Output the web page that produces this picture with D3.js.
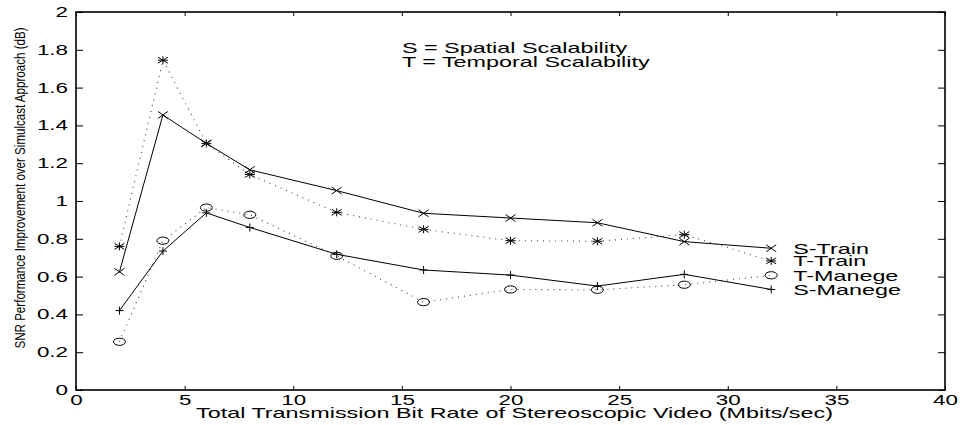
<!DOCTYPE html>
<html>
<head>
<meta charset="utf-8">
<script src="https://cdn.jsdelivr.net/npm/d3@7/dist/d3.min.js"></script>
<style>
  body { margin: 0; background: #fff; }
  text { font-family: "Liberation Sans", Arial, Helvetica, sans-serif; fill: #000; }
</style>
</head>
<body>
<div id="chart"></div>
<script>
// bit rates (Mbits/sec)
const rates = [2, 4, 6, 8, 12, 16, 20, 24, 28, 32];

// SNR improvement over simulcast (dB)
const sTrain  = [0.625, 1.455, 1.305, 1.165, 1.055, 0.935, 0.91, 0.885, 0.785, 0.75];
const tTrain  = [0.76, 1.745, 1.305, 1.14, 0.94, 0.85, 0.79, 0.787, 0.822, 0.683];
const tManege = [0.255, 0.79, 0.965, 0.927, 0.71, 0.465, 0.532, 0.53, 0.557, 0.607];
const sManege = [0.42, 0.735, 0.937, 0.86, 0.718, 0.635, 0.608, 0.55, 0.612, 0.532];

const seriesNames = ['S-Train', 'T-Train', 'T-Manege', 'S-Manege'];
const seriesMarkers = ['x', 'star', 'circle', 'plus'];
const seriesDashed = [false, true, true, false];

const xTicks = [0, 5, 10, 15, 20, 25, 30, 35, 40];
const yTicks = [0, 0.2, 0.4, 0.6, 0.8, 1, 1.2, 1.4, 1.6, 1.8, 2];

const notes = ['S = Spatial Scalability', 'T = Temporal Scalability'];
const noteX = 15;
const noteY = [1.81, 1.735];

const xTitle = 'Total Transmission Bit Rate of Stereoscopic Video (Mbits/sec)';
const yTitle = 'SNR Performance Improvement over Simulcast Approach (dB)';

// the original figure is stretched horizontally
const SX = 1.67;
const SX_TICK = 1.6;

const W = 960, H = 425;
const margin = {top: 12, right: 15, bottom: 35, left: 76};
const width = W - margin.left - margin.right;
const height = H - margin.top - margin.bottom;

const svg = d3.select('#chart').append('svg')
    .attr('width', W)
    .attr('height', H);

const g = svg.append('g')
    .attr('transform', 'translate(' + margin.left + ',' + margin.top + ')');

const x = d3.scaleLinear().domain([0, 40]).range([0, width]);
const y = d3.scaleLinear().domain([0, 2]).range([height, 0]);

// axes, ticks pointing inward like matlab
const xAxis = d3.axisBottom(x).tickValues(xTicks).tickSizeInner(-4).tickSizeOuter(0).tickPadding(5);
const yAxis = d3.axisLeft(y).tickValues(yTicks).tickSizeInner(-7).tickSizeOuter(0).tickPadding(8)
    .tickFormat(d => String(d));
const xAxisTop = d3.axisTop(x).tickValues(xTicks).tickSizeInner(-4).tickSizeOuter(0).tickFormat('');
const yAxisRight = d3.axisRight(y).tickValues(yTicks).tickSizeInner(-7).tickSizeOuter(0).tickFormat('');

const gx = g.append('g')
    .attr('transform', 'translate(0,' + height + ')')
    .call(xAxis);
const gy = g.append('g').call(yAxis);
const gxt = g.append('g').call(xAxisTop);
const gyr = g.append('g')
    .attr('transform', 'translate(' + width + ',0)')
    .call(yAxisRight);

[gx, gy, gxt, gyr].forEach(a => {
  a.select('.domain').remove();
  a.selectAll('line').attr('stroke', '#000').attr('stroke-width', 1);
  a.selectAll('text')
      .attr('font-size', 14)
      .attr('font-family', '"Liberation Sans", Arial, sans-serif')
      .attr('fill', '#000');
});
gx.selectAll('text').attr('transform', 'scale(' + SX_TICK + ',1)');
gy.selectAll('text')
    .attr('x', -8 / SX_TICK)
    .attr('transform', 'scale(' + SX_TICK + ',1)');

// frame
g.append('rect')
    .attr('width', width)
    .attr('height', height)
    .attr('fill', 'none')
    .attr('stroke', '#000')
    .attr('stroke-width', 1.6);

// series
const allSeries = [sTrain, tTrain, tManege, sManege].map((vals, i) => ({
  name: seriesNames[i],
  marker: seriesMarkers[i],
  dashed: seriesDashed[i],
  points: vals.map((v, j) => ({rate: rates[j], value: v}))
}));

const line = d3.line()
    .x(d => x(d.rate))
    .y(d => y(d.value));

// dotted first, solid on top
allSeries.slice().sort((a, b) => b.dashed - a.dashed).forEach(s => {
  g.append('path')
      .datum(s.points)
      .attr('fill', 'none')
      .attr('stroke', s.dashed ? '#444' : '#000')
      .attr('stroke-width', s.dashed ? 1.1 : 1)
      .attr('stroke-dasharray', s.dashed ? '1,5' : null)
      .attr('d', line);
});

function markerPath(type) {
  switch (type) {
    case 'x': {
      const hx = 5, hy = 3.5;
      return `M${-hx},${-hy}L${hx},${hy}M${-hx},${hy}L${hx},${-hy}`;
    }
    case 'plus': {
      const hx = 4, hy = 4;
      return `M${-hx},0L${hx},0M0,${-hy}L0,${hy}`;
    }
    case 'star': {
      const hx = 5, hy = 4;
      return `M${-hx},${-hy * 0.75}L${hx},${hy * 0.75}M${-hx},${hy * 0.75}L${hx},${-hy * 0.75}` +
             `M${-hx},0L${hx},0M0,${-hy}L0,${hy}`;
    }
    case 'circle': {
      const rx = 6, ry = 3.6;
      return `M${-rx},0A${rx},${ry} 0 1,0 ${rx},0A${rx},${ry} 0 1,0 ${-rx},0Z`;
    }
  }
}

allSeries.forEach(s => {
  g.append('g').selectAll('path')
      .data(s.points)
      .join('path')
      .attr('transform', d => 'translate(' + x(d.rate) + ',' + y(d.value) + ')')
      .attr('d', markerPath(s.marker))
      .attr('fill', 'none')
      .attr('stroke', '#000')
      .attr('stroke-width', 1);
});

// series labels next to last point
allSeries.forEach(s => {
  const last = s.points[s.points.length - 1];
  g.append('text')
      .attr('transform', 'translate(' + (x(last.rate) + 22) + ',' + (y(last.value) + 5.5) + ') scale(' + SX + ',1)')
      .attr('font-size', 14)
      .text(s.name);
});

// notes
notes.forEach((t, i) => {
  g.append('text')
      .attr('transform', 'translate(' + x(noteX) + ',' + (y(noteY[i]) + 5) + ') scale(' + SX + ',1)')
      .attr('font-size', 14)
      .text(t);
});

// axis titles
svg.append('text')
    .attr('transform', 'translate(' + (margin.left + width / 2 + 4) + ',418) scale(' + SX + ',1)')
    .attr('text-anchor', 'middle')
    .attr('font-size', 14)
    .text(xTitle);

svg.append('text')
    .attr('transform', 'translate(25,188) rotate(-90)')
    .attr('text-anchor', 'middle')
    .attr('font-size', 14)
    .attr('textLength', 321)
    .attr('lengthAdjust', 'spacingAndGlyphs')
    .text(yTitle);
</script>
</body>
</html>
